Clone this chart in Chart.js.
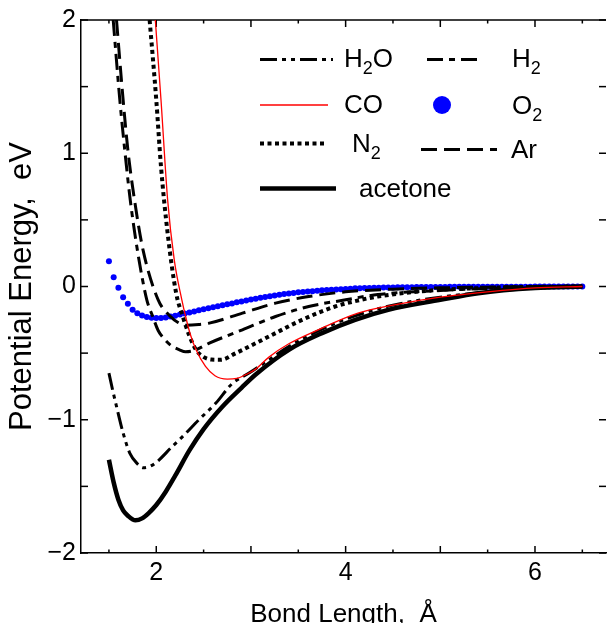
<!DOCTYPE html>
<html><head><meta charset="utf-8">
<script src="https://cdn.jsdelivr.net/npm/chart.js@4.4.1/dist/chart.umd.min.js"></script>
<style>html,body{margin:0;padding:0;background:#fff;overflow:hidden}canvas{display:block}</style>
</head><body>
<canvas id="c" width="609" height="623"></canvas>
<script>
const FONT = "'Liberation Sans', Arial, Helvetica, sans-serif";

// ---- data ----
const acetoneX = [1.50,1.55,1.60,1.65,1.70,1.78,1.85,1.92,2.00,2.10,2.20,2.35,2.50,2.70,2.90,3.05,3.40,3.75,4.10,4.45,5.00,5.40,6.00,6.50];
const acetoneY = [-1.30,-1.47,-1.60,-1.68,-1.72,-1.755,-1.74,-1.70,-1.64,-1.54,-1.42,-1.23,-1.07,-0.90,-0.76,-0.66,-0.475,-0.35,-0.25,-0.175,-0.10,-0.05,-0.012,0.0];

const h2oX = [1.50,1.54,1.58,1.65,1.72,1.80,1.86,1.93,2.00,2.17,2.28,2.45,2.63,2.80,2.98,3.19,3.40,3.75,4.10,4.50,5.00,5.50,6.00,6.50];
const h2oY = [-0.65,-0.78,-0.90,-1.10,-1.25,-1.33,-1.36,-1.35,-1.32,-1.20,-1.125,-1.00,-0.875,-0.73,-0.65,-0.55,-0.45,-0.32,-0.22,-0.14,-0.08,-0.04,-0.012,0.0];

const coX = [1.99,2.05,2.12,2.19,2.27,2.31,2.36,2.42,2.52,2.62,2.75,2.85,2.95,3.05,3.19,3.40,3.71,4.13,4.50,5.00,5.50,6.00,6.50];
const coY = [2.0,1.40,0.65,0.20,-0.10,-0.225,-0.36,-0.475,-0.60,-0.67,-0.695,-0.69,-0.66,-0.62,-0.53,-0.43,-0.325,-0.20,-0.14,-0.08,-0.04,-0.01,0.0];

const n2X = [1.93,2.00,2.05,2.12,2.21,2.28,2.35,2.42,2.49,2.58,2.68,2.84,3.19,3.54,3.89,4.10,4.34,4.90,5.50,6.00,6.50];
const n2Y = [2.0,1.40,0.90,0.40,-0.05,-0.225,-0.37,-0.475,-0.525,-0.548,-0.55,-0.50,-0.375,-0.25,-0.15,-0.11,-0.075,-0.03,-0.01,-0.003,0.0];

const h2X = [1.545,1.615,1.667,1.725,1.80,1.90,1.96,2.02,2.08,2.15,2.245,2.31,2.40,2.56,2.91,3.26,3.61,4.00,4.34,5.00,5.50,6.00,6.50];
const h2Y = [2.0,1.40,1.025,0.65,0.275,-0.10,-0.22,-0.33,-0.39,-0.44,-0.475,-0.49,-0.48,-0.425,-0.325,-0.225,-0.15,-0.10,-0.06,-0.03,-0.015,-0.005,0.0];

const arX = [1.58,1.65,1.70,1.77,1.86,2.02,2.15,2.23,2.31,2.45,2.56,2.91,3.26,3.61,4.00,4.50,5.00,5.50,6.00,6.50];
const arY = [2.0,1.40,1.025,0.65,0.275,-0.10,-0.225,-0.27,-0.29,-0.285,-0.275,-0.20,-0.125,-0.075,-0.04,-0.02,-0.01,-0.005,0.0,0.0];

const o2X = [1.50,1.55,1.60,1.65,1.70,1.75,1.80,1.85,1.90,1.95,2.00,2.05,2.10,2.15,2.20,2.25,2.30,2.35,2.40,2.45,
  2.50,2.55,2.60,2.65,2.70,2.75,2.80,2.85,2.90,2.95,3.00,3.05,3.10,3.15,3.20,3.25,3.30,3.35,3.40,3.45,
  3.50,3.55,3.60,3.65,3.70,3.75,3.80,3.85,3.90,3.95,4.00,4.05,4.10,4.15,4.20,4.25,4.30,4.35,4.40,4.45,
  4.50,4.55,4.60,4.65,4.70,4.75,4.80,4.85,4.90,4.95,5.00,5.05,5.10,5.15,5.20,5.25,5.30,5.35,5.40,5.45,
  5.50,5.55,5.60,5.65,5.70,5.75,5.80,5.85,5.90,5.95,6.00,6.05,6.10,6.15,6.20,6.25,6.30,6.35,6.40,6.45,6.50];
const o2Y = [0.19,0.07,-0.01,-0.08,-0.13,-0.175,-0.20,-0.218,-0.228,-0.234,-0.237,-0.236,-0.232,-0.226,-0.219,-0.211,-0.203,-0.195,-0.187,-0.179,
  -0.171,-0.163,-0.155,-0.148,-0.141,-0.134,-0.127,-0.119,-0.112,-0.105,-0.098,-0.091,-0.085,-0.079,-0.073,-0.067,-0.062,-0.057,-0.052,-0.048,
  -0.044,-0.041,-0.038,-0.035,-0.032,-0.029,-0.026,-0.024,-0.022,-0.020,-0.018,-0.016,-0.014,-0.013,-0.012,-0.011,-0.010,-0.009,-0.008,-0.007,
  -0.007,-0.006,-0.006,-0.005,-0.005,-0.004,-0.004,-0.004,-0.003,-0.003,-0.003,-0.003,-0.002,-0.002,-0.002,-0.002,-0.002,-0.002,-0.001,-0.001,
  -0.001,-0.001,-0.001,-0.001,-0.001,-0.001,-0.001,-0.001,-0.001,-0.001,0,0,0,0,0,0,0,0,0,0,0];

const xTickLabels = [2, 4, 6];
const yTickLabels = [-2, -1, 0, 1, 2];
const xMajorTicks = [2, 3, 4, 5, 6];
const xMinorTicks = [1.5, 2.5, 3.5, 4.5, 5.5, 6.5];
const yTicksAll = [-2, -1.5, -1, -0.5, 0, 0.5, 1, 1.5, 2];

function pts(xs, ys) { return xs.map((x, i) => ({x: x, y: ys[i]})); }

const lineBase = {showLine: true, pointRadius: 0, borderCapStyle: 'butt', cubicInterpolationMode: 'monotone', clip: 0, fill: false};

const datasets = [
  Object.assign({}, lineBase, {label: 'CO', data: pts(coX, coY), borderColor: '#ff0000', borderWidth: 1.3, order: 0}),
  Object.assign({}, lineBase, {label: 'acetone', data: pts(acetoneX, acetoneY), borderColor: '#000', borderWidth: 4.5, order: 1}),
  Object.assign({}, lineBase, {label: 'N2', data: pts(n2X, n2Y), borderColor: '#000', borderWidth: 4, borderDash: [4, 3.5], order: 2}),
  Object.assign({}, lineBase, {label: 'H2O', data: pts(h2oX, h2oY), borderColor: '#000', borderWidth: 3, borderDash: [17, 5, 4, 5, 4, 5], order: 3}),
  Object.assign({}, lineBase, {label: 'H2', data: pts(h2X, h2Y), borderColor: '#000', borderWidth: 3, borderDash: [16, 6, 6, 6], order: 4}),
  Object.assign({}, lineBase, {label: 'Ar', data: pts(arX, arY), borderColor: '#000', borderWidth: 3, borderDash: [16, 7], order: 5}),
  {label: 'O2', data: pts(o2X, o2Y), showLine: false, pointRadius: 3, pointHoverRadius: 3, pointBorderWidth: 0,
   pointBackgroundColor: '#0000ff', borderColor: '#0000ff', backgroundColor: '#0000ff', order: 6}
];

// legend layout (styles/positions only)
const legendLayout = [
  {label: 'H2O', sx: 260, sy: 59.5, len: 73, tx: 344, ty: 67},
  {label: 'CO', sx: 260, sy: 105, len: 68, tx: 344, ty: 113},
  {label: 'N2', sx: 260, sy: 143.5, len: 65, tx: 352, ty: 152},
  {label: 'acetone', sx: 260, sy: 188.5, len: 76, tx: 359, ty: 197},
  {label: 'H2', sx: 427, sy: 59.5, len: 51, tx: 512, ty: 67},
  {label: 'O2', sx: 442, sy: 105, len: 0, tx: 512, ty: 114},
  {label: 'Ar', sx: 421, sy: 149.5, len: 76, tx: 511, ty: 158}
];

const framePlugin = {
  id: 'frame',
  beforeDatasetsDraw(chart) {
    const ctx = chart.ctx;
    const {left, right, top, bottom} = chart.chartArea;
    const xs = chart.scales.x, ys = chart.scales.y;
    ctx.save();
    ctx.strokeStyle = '#000';
    ctx.lineWidth = 1.5;
    const ln = (a, b, c, d) => { ctx.beginPath(); ctx.moveTo(a, b); ctx.lineTo(c, d); ctx.stroke(); };
    ln(left, top, right, top);
    xMajorTicks.forEach(v => { const p = xs.getPixelForValue(v); ln(p, bottom, p, bottom - 7); ln(p, top, p, top + 7); });
    xMinorTicks.forEach(v => { const p = xs.getPixelForValue(v); ln(p, bottom, p, bottom - 3.5); ln(p, top, p, top + 3.5); });
    yTicksAll.forEach(v => { const p = ys.getPixelForValue(v); ln(left, p, left + 7, p); ln(right, p, right - 7, p); });
    ctx.restore();
  }
};

const legendPlugin = {
  id: 'gridLegend',
  afterDatasetsDraw(chart) {
    const ctx = chart.ctx;
    ctx.save();
    legendLayout.forEach(item => {
      const ds = chart.data.datasets.find(d => d.label === item.label);
      if (ds.showLine) {
        ctx.strokeStyle = ds.borderColor;
        ctx.lineWidth = ds.borderWidth;
        ctx.lineCap = 'butt';
        ctx.setLineDash(ds.borderDash || []);
        ctx.beginPath(); ctx.moveTo(item.sx, item.sy); ctx.lineTo(item.sx + item.len, item.sy); ctx.stroke();
        ctx.setLineDash([]);
      } else {
        ctx.fillStyle = ds.pointBackgroundColor;
        ctx.beginPath(); ctx.arc(item.sx, item.sy, 9, 0, Math.PI * 2); ctx.fill();
      }
      // label with subscript digits
      ctx.fillStyle = '#000';
      ctx.textBaseline = 'alphabetic';
      ctx.textAlign = 'left';
      let x = item.tx;
      item.label.split(/(\d+)/).forEach(part => {
        if (!part) return;
        const sub = /^\d+$/.test(part);
        ctx.font = (sub ? '18px ' : '26px ') + FONT;
        ctx.fillText(part, x, item.ty + (sub ? 7 : 0));
        x += ctx.measureText(part).width;
      });
    });
    ctx.restore();
  }
};

new Chart(document.getElementById('c'), {
  type: 'scatter',
  data: {datasets: datasets},
  options: {
    responsive: false,
    animation: false,
    devicePixelRatio: 1,
    layout: {padding: {left: 0, right: 0, top: 20, bottom: 0}},
    plugins: {legend: {display: false}, tooltip: {enabled: false}},
    scales: {
      x: {
        type: 'linear', position: 'bottom', min: 1.205, max: 6.75,
        afterBuildTicks: s => { s.ticks = xTickLabels.map(v => ({value: v})); },
        afterFit: s => { s.height = 70; },
        grid: {drawOnChartArea: false, drawTicks: false},
        border: {display: true, color: '#000', width: 1.5},
        ticks: {autoSkip: false, maxRotation: 0, padding: 5, color: '#000', font: {family: FONT, size: 25},
          callback: v => String(v)},
        title: {display: true, text: 'Bond Length,  \u00C5', color: '#000', font: {family: FONT, size: 26, lineHeight: 1},
          padding: {top: 0, bottom: -5}}
      },
      y: {
        type: 'linear', position: 'left', min: -2, max: 2,
        afterBuildTicks: s => { s.ticks = yTickLabels.map(v => ({value: v})); },
        afterFit: s => { s.width = 81; },
        grid: {drawOnChartArea: false, drawTicks: false},
        border: {display: true, color: '#000', width: 1.5},
        ticks: {autoSkip: false, padding: 5, color: '#000', font: {family: FONT, size: 25},
          callback: v => (v < 0 ? '\u2212' + Math.abs(v) : String(v))},
        title: {display: true, text: 'Potential Energy,  eV', color: '#000', font: {family: FONT, size: 31, lineHeight: 1},
          padding: {top: 7, bottom: 0}}
      }
    }
  },
  plugins: [framePlugin, legendPlugin]
});
</script>
</body></html>
